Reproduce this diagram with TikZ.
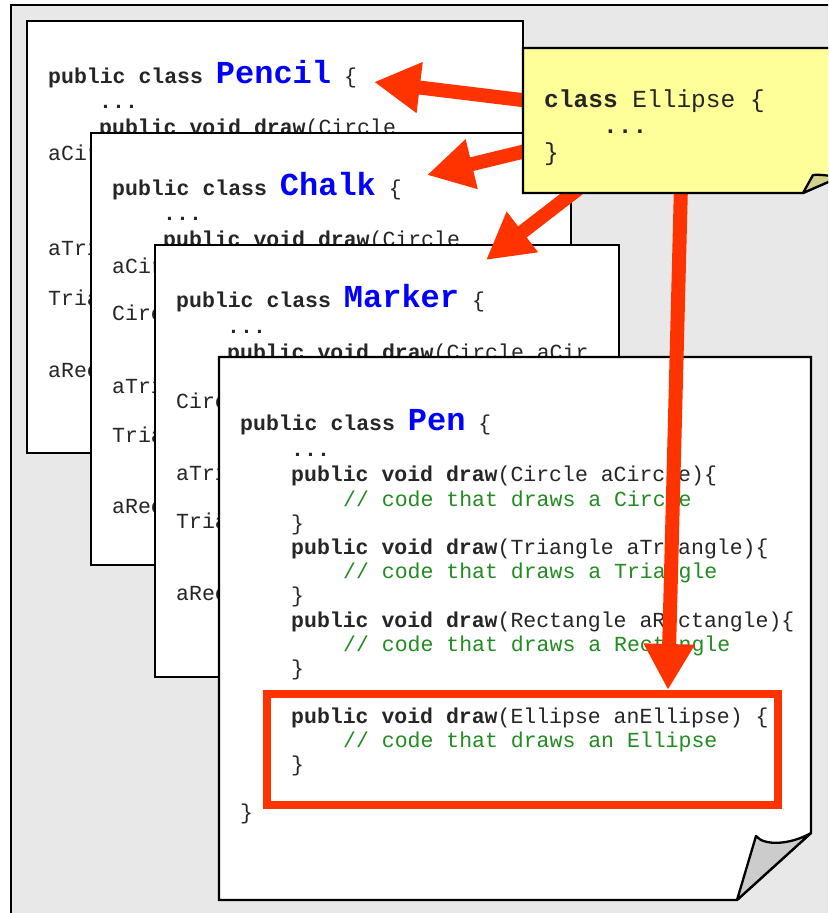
\documentclass[tikz,border=0pt]{standalone}
\usepackage{fontspec}
\setmonofont{Liberation Mono}
\usetikzlibrary{arrows.meta}
\definecolor{bggray}{HTML}{E8E8E8}
\definecolor{notey}{HTML}{FFFF99}
\definecolor{flapy}{HTML}{D2D28C}
\definecolor{flapg}{HTML}{CCCCCC}
\definecolor{arrowred}{HTML}{FF3300}
\definecolor{codegreen}{HTML}{228B22}
\definecolor{clsblue}{HTML}{0000FF}
\definecolor{codegray}{HTML}{262626}
\newcommand{\pgcodefont}{\fontsize{21.5}{24}\selectfont\ttfamily}
\newcommand{\pgnotefont}{\fontsize{24.5}{27}\selectfont\ttfamily}
\newcommand{\pghdr}[1]{\textbf{public class }{\fontsize{32}{32}\selectfont\bfseries\color{clsblue}#1}\ \{}
\newcommand{\pgdraw}[1]{\textbf{public void draw}(#1}
\begin{document}
\begin{tikzpicture}[x=1pt,y=-1pt,
  code/.style={anchor=base west,inner sep=0pt,font=\pgcodefont,text=codegray},
  cmt/.style={code,text=codegreen},
  page/.style={draw=black,fill=white,line width=2.3pt,line join=miter},
  redarrow/.style={draw=arrowred,line width=14pt,-{Triangle[length=46pt,width=48pt]}}]
\path[use as bounding box] (0,0) rectangle (828,913);
\clip (0,0) rectangle (828,913);
% background
\draw[fill=bggray,line width=2pt] (11,5) rectangle (900,1000);

% Pencil page
\draw[page] (27,21) rectangle (523,453);
\node[code] (pa1) at (48,83) {\pghdr{Pencil}};
\node[code] (pa2) at (99,108) {\textbf{...}};
\node[code] (pa3) at (99,134) {\pgdraw{Circle}};
\node[code] (pa4) at (48,160) {aCir};
\node[code] (pa5) at (48,255) {aTri};
\node[code] (pa6) at (48,305) {Tria};
\node[code] (pa7) at (48,377) {aRec};

% Chalk page
\draw[page] (91,133) rectangle (571,565);
\node[code] (ch1) at (112,195) {\pghdr{Chalk}};
\node[code] (ch2) at (163,220) {\textbf{...}};
\node[code] (ch3) at (163,246) {\pgdraw{Circle}};
\node[code] (ch4) at (112,273) {aCir};
\node[code] (ch5) at (112,320) {Circ};
\node[code] (ch6) at (112,393) {aTri};
\node[code] (ch7) at (112,442) {Tria};
\node[code] (ch8) at (112,513) {aRec};

% Marker page
\draw[page] (155,245) rectangle (619,677);
\node[code] (mk1) at (176,307) {\pghdr{Marker}};
\node[code] (mk2) at (227,333) {\textbf{...}};
\node[code] (mk3) at (227,359) {\pgdraw{Circle aCir}};
\node[code] (mk4) at (176,408) {Circ};
\node[code] (mk5) at (176,480) {aTri};
\node[code] (mk6) at (176,528) {Tria};
\node[code] (mk7) at (176,600) {aRec};

% Pen page
\draw[page] (219,357) -- (811,357) -- (811,833) -- (737,900) -- (219,900) -- cycle;
\draw[fill=flapg,line width=2.3pt,line join=round] (737,900) -- (756,836) .. controls (764,846) and (790,845) .. (811,833) -- cycle;
\node[code] (pn1) at (240,430) {\pghdr{Pen}};
\node[code] (pn2) at (291,456) {\textbf{...}};
\node[code] (pn3) at (291,481) {\pgdraw{Circle aCircle)\{}};
\node[cmt]  (pn4) at (343,506) {// code that draws a Circle};
\node[code] (pn5) at (291,530) {\}};
\node[code] (pn6) at (291,554) {\pgdraw{Triangle aTriangle)\{}};
\node[cmt]  (pn7) at (343,578) {// code that draws a Triangle};
\node[code] (pn8) at (291,602) {\}};
\node[code] (pn9) at (291,627) {\pgdraw{Rectangle aRectangle)\{}};
\node[cmt]  (pn10) at (343,651) {// code that draws a Rectangle};
\node[code] (pn11) at (291,675) {\}};
\node[code] (pn12) at (291,723) {\pgdraw{Ellipse anEllipse) \{}};
\node[cmt]  (pn13) at (343,747) {// code that draws an Ellipse};
\node[code] (pn14) at (291,771) {\}};
\node[code] (pn15) at (240,819) {\}};

% highlight box
\draw[draw=arrowred,line width=8pt] (267,694) rectangle (778,805);

% arrows
\coordinate (s1) at (530,101);
\coordinate (t1) at (374,82);
\coordinate (s2) at (530,150);
\coordinate (t2) at (427,175);
\coordinate (s3) at (578,189);
\coordinate (t3) at (486,260);
\coordinate (s4) at (681,185);
\coordinate (t4) at (668,690);
\draw[redarrow] (s1) -- (t1);
\draw[redarrow] (s2) -- (t2);
\draw[redarrow] (s3) -- (t3);
\draw[redarrow] (s4) -- (t4);

% note
\draw[fill=notey,line width=2.3pt,line join=miter] (523,48) -- (880,48) -- (880,159) -- (803,193) -- (523,193) -- cycle;
\draw[fill=flapy,line width=2.3pt,line join=round] (803,193) -- (813,175) .. controls (822,174) and (832,177) .. (842,176) -- cycle;
\node[code,font=\pgnotefont] (nt1) at (544,107) {\textbf{class} Ellipse \{};
\node[code,font=\pgnotefont] (nt2) at (603,133) {\textbf{...}};
\node[code,font=\pgnotefont] (nt3) at (544,160) {\}};
\end{tikzpicture}
\end{document}
